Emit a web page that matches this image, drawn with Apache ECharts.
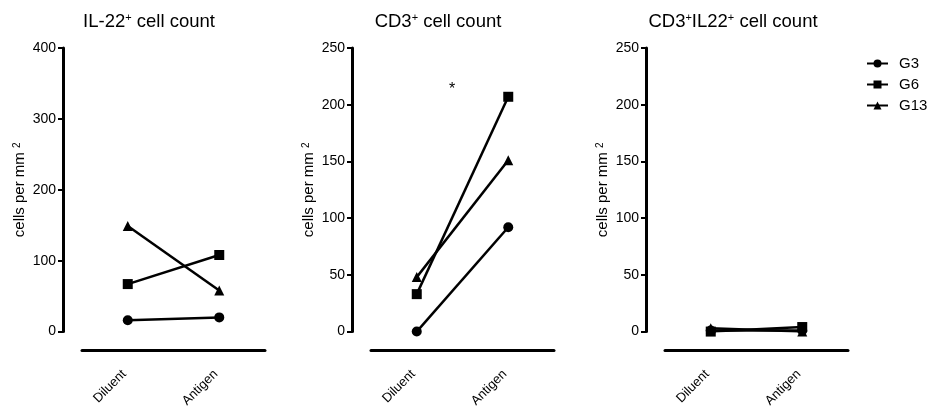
<!DOCTYPE html>
<html>
<head>
<meta charset="utf-8">
<script src="https://cdn.jsdelivr.net/npm/echarts@6/dist/echarts.min.js"></script>
<style>
  html, body { margin: 0; padding: 0; background: #fff; }
  #chart { width: 933px; height: 410px; }
</style>
</head>
<body>
<div id="chart"></div>
<script>
'use strict';

// data
var categories = ['Diluent', 'Antigen'];
var groups = ['G3', 'G6', 'G13'];
var symbols = ['circle', 'rect', 'triangle'];

var il22G3 = [16, 20],  il22G6 = [67, 108], il22G13 = [149, 58];
var cd3G3 = [0, 92],    cd3G6 = [33, 207],  cd3G13 = [48, 151];
var dblG3 = [1, 1],     dblG6 = [0, 4],     dblG13 = [3, 0];

var panelTitles = ['IL-22{s|+} cell count', 'CD3{s|+} cell count', 'CD3{s|+}IL22{s|+} cell count'];
var yMax = [400, 250, 250];
var yStep = [100, 50, 50];

var panelData = [
	[il22G3, il22G6, il22G13],
	[cd3G3, cd3G6, cd3G13],
	[dblG3, dblG6, dblG13]
];

var FONT = "'Liberation Sans', Arial, sans-serif";
var gridLeft = [82, 371, 665];
var titleX = [144, 433, 728];

var grids = [], xAxes = [], yAxes = [], series = [], titles = [];

panelData.forEach(function (rows, p) {
	grids.push({ left: gridLeft[p], width: 183, top: 48, height: 284 });
	titles.push({
		text: panelTitles[p],
		left: titleX[p],
		top: 7,
		textAlign: 'center',
		textStyle: {
			fontFamily: FONT, fontSize: 18.5, fontWeight: 'normal', color: '#000',
			rich: { s: { fontFamily: FONT, fontSize: 11, verticalAlign: 'top', color: '#000' } }
		}
	});
	xAxes.push({
		type: 'category',
		gridIndex: p,
		data: categories,
		offset: 19,
		axisLine: { onZero: false, lineStyle: { color: '#000', width: 3 } },
		axisTick: { alignWithLabel: true, length: 5, lineStyle: { color: '#000', width: 2 } },
		axisLabel: { rotate: 45, margin: 18, padding: [0, 5, 0, 0], color: '#000', fontFamily: FONT, fontSize: 13 },
		splitLine: { show: false }
	});
	yAxes.push({
		type: 'value',
		gridIndex: p,
		min: 0,
		max: yMax[p],
		interval: yStep[p],
		offset: 19,
		name: 'cells per mm {s|2}',
		nameLocation: 'middle',
		nameRotate: 90,
		nameGap: 36,
		nameTextStyle: {
			fontFamily: FONT, fontSize: 15, color: '#000',
			rich: { s: { fontFamily: FONT, fontSize: 10, verticalAlign: 'top', color: '#000' } }
		},
		axisLine: { show: true, onZero: false, lineStyle: { color: '#000', width: 3 } },
		axisTick: { show: true, length: 5, lineStyle: { color: '#000', width: 2 } },
		axisLabel: { margin: 7, color: '#000', fontFamily: FONT, fontSize: 14 },
		splitLine: { show: false }
	});
	rows.forEach(function (vals, g) {
		series.push({
			name: groups[g],
			type: 'line',
			xAxisIndex: p,
			yAxisIndex: p,
			data: vals,
			symbol: symbols[g],
			symbolSize: 10,
			showAllSymbol: true,
			animation: false,
			lineStyle: { color: '#000', width: 2.5 },
			itemStyle: { color: '#000', borderWidth: 0 }
		});
	});
});

var chart = echarts.init(document.getElementById('chart'));
chart.setOption({
	animation: false,
	backgroundColor: '#fff',
	title: titles,
	grid: grids,
	xAxis: xAxes,
	yAxis: yAxes,
	legend: {
		data: groups,
		orient: 'vertical',
		left: 861,
		top: 51,
		itemWidth: 21,
		itemHeight: 10,
		itemGap: 6,
		textStyle: { fontFamily: FONT, fontSize: 15, color: '#000', padding: [0, 0, 0, 6] }
	},
	graphic: [{
		type: 'text',
		x: 452,
		y: 90,
		style: { text: '*', fontFamily: FONT, fontSize: 16, fill: '#000', textAlign: 'center', textVerticalAlign: 'middle' }
	}],
	series: series
});
</script>
</body>
</html>
